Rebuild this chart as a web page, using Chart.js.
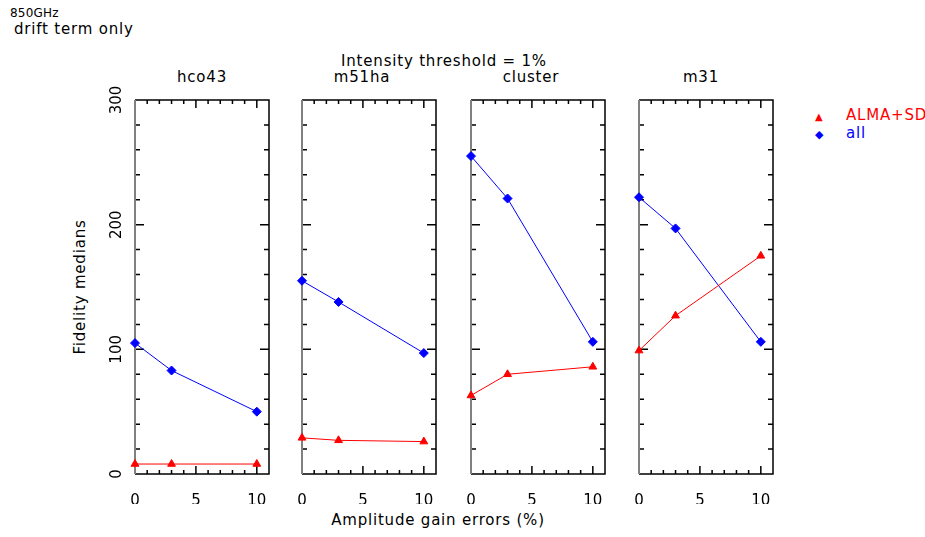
<!DOCTYPE html>
<html>
<head>
<title>Fidelity medians vs amplitude gain errors</title>
<script src="https://cdn.jsdelivr.net/npm/chart.js"></script>
<style>
  body { margin: 0; background: #fff; width: 925px; height: 537px; position: relative; overflow: hidden;
         font-family: "DejaVu Sans", sans-serif; color: #000; }
  .t { position: absolute; white-space: nowrap; line-height: 18px; letter-spacing: 0.8px; }
  .c { transform: translateX(-50%); }
  canvas { position: absolute; }
</style>
</head>
<body>
<div class="t" style="left:10px;top:4px;font-size:12px;letter-spacing:0.2px">850GHz</div>
<div class="t" style="left:14px;top:20px;font-size:15px">drift term only</div>
<div class="t c" style="left:444px;top:52px;font-size:15px">Intensity threshold = 1%</div>
<div class="t c" style="left:438px;top:511px;font-size:15px">Amplitude gain errors (%)</div>
<div class="t" style="left:80px;top:287px;font-size:15px;transform:translate(-50%,-50%) rotate(-90deg)">Fidelity medians</div>
<div class="t" style="left:815px;top:106px;font-size:15px;color:#f00"><span style="font-size:10px;display:inline-block;width:31px">&#9650;</span>ALMA+SD</div>
<div class="t" style="left:815px;top:124px;font-size:15px;color:#00f"><span style="font-size:11px;display:inline-block;width:31px">&#9670;</span>all</div>
<div id="titles"></div>

<canvas id="p0" width="190" height="454"></canvas>
<canvas id="p1" width="190" height="454"></canvas>
<canvas id="p2" width="190" height="454"></canvas>
<canvas id="p3" width="190" height="454"></canvas>

<script>
  // data
  const gainErrors = [0, 3, 10];
  const fields = ["hco43", "m51ha", "cluster", "m31"];
  const almaHco43 = [8, 8, 8];
  const allHco43 = [105, 83, 50];
  const almaM51ha = [29, 27, 26];
  const allM51ha = [155, 138, 97];
  const almaCluster = [63, 80, 86];
  const allCluster = [255, 221, 106];
  const almaM31 = [99, 127, 175];
  const allM31 = [222, 197, 106];
  const xTicks = [0, 5, 10];
  const yTicks = [0, 100, 200, 300];

  const almaSeries = [almaHco43, almaM51ha, almaCluster, almaM31];
  const allSeries = [allHco43, allM51ha, allCluster, allM31];

  const panelLeft = [135, 302, 471, 639];
  const panelW = 134;
  const titleShift = [0, -7, -7, -5];

  // box with inward ticks on all sides, like the original plot
  const framePlugin = {
    id: "frame",
    beforeDatasetsDraw(chart) {
      const { ctx, chartArea: a, scales: { x, y } } = chart;
      ctx.save();
      ctx.strokeStyle = "#000";
      ctx.lineWidth = 1.5;
      ctx.beginPath();
      ctx.moveTo(a.left, a.top); ctx.lineTo(a.right, a.top);
      ctx.lineTo(a.right, a.bottom); ctx.lineTo(a.left, a.bottom);
      for (let v = 0; v <= 300; v += 20) {
        const py = y.getPixelForValue(v);
        const len = v % 100 === 0 ? 9 : 5;
        ctx.moveTo(a.left, py); ctx.lineTo(a.left + len, py);
        ctx.moveTo(a.right, py); ctx.lineTo(a.right - len, py);
      }
      for (let v = 1; v <= 10; v += 1) {
        const px = x.getPixelForValue(v);
        const len = v % 5 === 0 ? 8 : 4;
        ctx.moveTo(px, a.bottom); ctx.lineTo(px, a.bottom - len);
        ctx.moveTo(px, a.top); ctx.lineTo(px, a.top + len);
      }
      ctx.stroke();
      ctx.strokeStyle = "#808080";
      ctx.lineWidth = 2;
      ctx.beginPath();
      ctx.moveTo(a.left, a.top); ctx.lineTo(a.left, a.bottom);
      ctx.stroke();

      if (chart.options.plugins.frame.yLabels) {
        ctx.fillStyle = "#000";
        ctx.font = "15px 'DejaVu Sans'";
        ctx.textAlign = "center";
        ctx.textBaseline = "middle";
        yTicks.forEach(v => {
          ctx.save();
          ctx.translate(a.left - 18, y.getPixelForValue(v));
          ctx.rotate(-Math.PI / 2);
          ctx.fillText(String(v), 0, 0);
          ctx.restore();
        });
      }
      ctx.restore();
    }
  };

  const titles = document.getElementById("titles");

  fields.forEach((name, i) => {
    const cv = document.getElementById("p" + i);
    cv.style.left = (panelLeft[i] - 40) + "px";
    cv.style.top = "50px";

    const tt = document.createElement("div");
    tt.className = "t c";
    tt.style.left = (panelLeft[i] + panelW / 2 + titleShift[i]) + "px";
    tt.style.top = "68px";
    tt.style.fontSize = "15px";
    tt.textContent = name;
    titles.appendChild(tt);

    new Chart(cv.getContext("2d"), {
      type: "line",
      data: {
        datasets: [
          {
            label: "ALMA+SD",
            data: gainErrors.map((g, k) => ({ x: g, y: almaSeries[i][k] })),
            borderColor: "#ff0000",
            backgroundColor: "#ff0000",
            borderWidth: 1,
            pointStyle: "triangle",
            pointRadius: 4.5,
            tension: 0,
            clip: false
          },
          {
            label: "all",
            data: gainErrors.map((g, k) => ({ x: g, y: allSeries[i][k] })),
            borderColor: "#0000ff",
            backgroundColor: "#0000ff",
            borderWidth: 1,
            pointStyle: "rectRot",
            pointRadius: 4.5,
            tension: 0,
            clip: false
          }
        ]
      },
      options: {
        responsive: false,
        animation: false,
        events: [],
        layout: { padding: { left: 40, right: 16, top: 50, bottom: 0 } },
        plugins: {
          legend: { display: false },
          tooltip: { enabled: false },
          frame: { yLabels: i === 0 }
        },
        scales: {
          x: {
            type: "linear",
            min: 0,
            max: 11,
            grid: { display: false },
            border: { display: false },
            ticks: { color: "#000", font: { family: "DejaVu Sans", size: 15 }, padding: 10, maxRotation: 0 },
            afterBuildTicks: s => { s.ticks = xTicks.map(v => ({ value: v })); },
            afterFit: s => { s.height = 30; }
          },
          y: {
            display: false,
            min: 0,
            max: 300
          }
        }
      },
      plugins: [framePlugin]
    });
  });
</script>
</body>
</html>
